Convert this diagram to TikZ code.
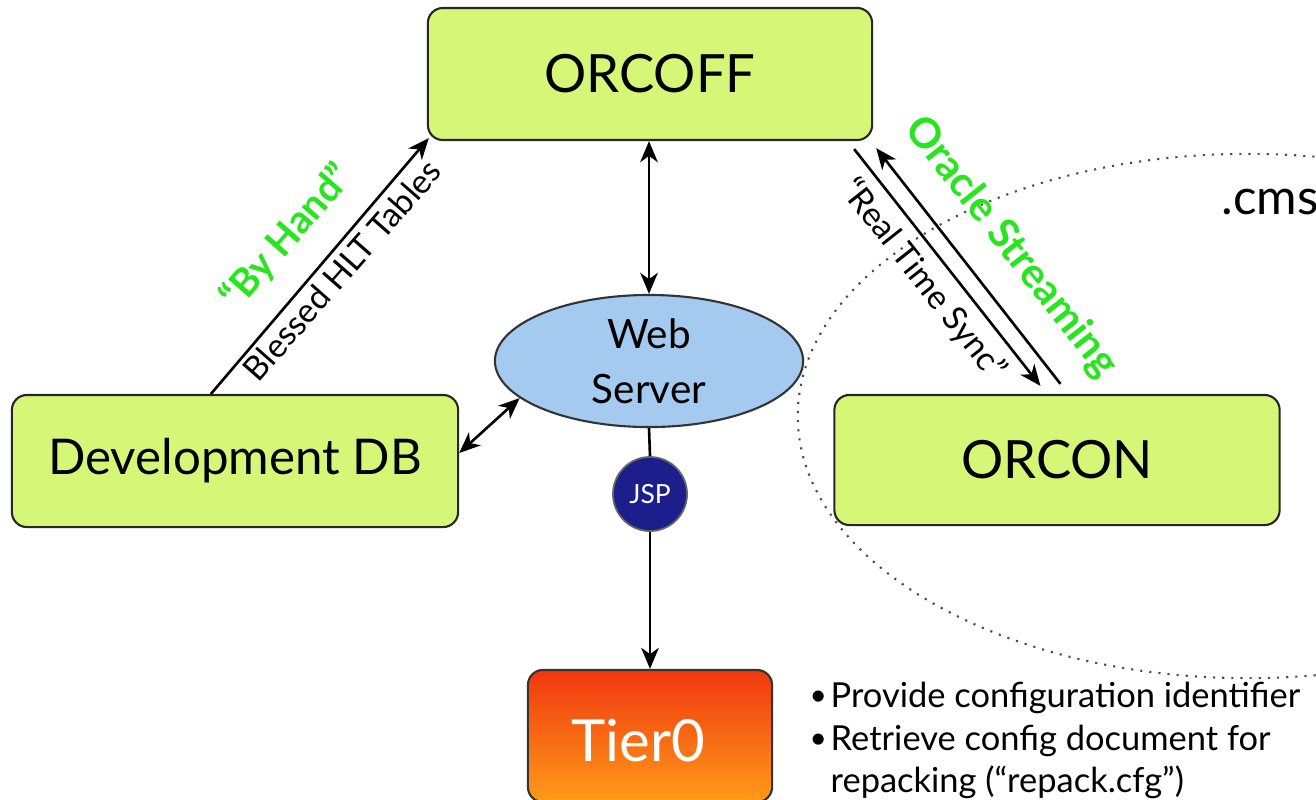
\documentclass[tikz,border=0pt]{standalone}
\usepackage{fontspec}
\setmainfont{Lato}
\usetikzlibrary{arrows.meta,shapes.geometric,shadings}
\definecolor{boxgreen}{RGB}{214,246,120}
\definecolor{srvblue}{RGB}{165,202,240}
\definecolor{jspnavy}{RGB}{28,30,140}
\definecolor{labgreen}{RGB}{40,230,30}
\definecolor{tiertop}{RGB}{240,55,15}
\definecolor{tierbot}{RGB}{255,155,25}
\begin{document}
\begin{tikzpicture}[x=0.01cm,y=-0.01cm,
  >={Stealth[length=6pt,width=5pt,inset=1.8pt]},
  box/.style={draw=black!85, line width=0.6pt, rounded corners=0.15cm, fill=boxgreen,
    minimum height=1.32cm, inner sep=0pt},
  conn/.style={line width=0.75pt, draw=black},
  lab/.style={font=\fontsize{9.5}{11}\selectfont, inner sep=0pt},
  glab/.style={font=\fontsize{11}{13}\selectfont\bfseries, text=labgreen, inner sep=0pt},
  bigtxt/.style={font=\fontsize{15}{18}\selectfont},
  bul/.style={font=\fontsize{9.8}{12}\selectfont, anchor=base west, inner sep=0pt}]
\clip (0,0) rectangle (1316,799);
\fill[white] (0,0) rectangle (1316,799);

% dotted domain ellipse
\draw[dotted, line width=0.6pt, black!70] (1248,416) ellipse [x radius=4.5cm, y radius=2.62cm];

% nodes
\node[box, bigtxt, minimum width=4.44cm] (orcoff) at (650,74) {ORCOFF};
\node[box, font=\fontsize{14}{17}\selectfont, minimum width=4.46cm] (dev) at (235,461) {Development DB};
\node[box, bigtxt, minimum width=4.45cm, minimum height=1.30cm] (orcon) at (1057,460) {ORCON};
\node[ellipse, draw=black!80, line width=0.6pt, fill=srvblue, minimum width=3.08cm, minimum height=1.32cm,
  inner sep=0pt, align=center, font=\fontsize{11.5}{15.5}\selectfont] (web) at (649,361) {Web\\Server};
\node[circle, fill=jspnavy, draw=black!60, line width=0.5pt, minimum size=0.74cm, inner sep=0pt,
  text=white, font=\fontsize{7.5}{9}\selectfont] (jsp) at (650,494) {JSP};
\node[draw=black!80, line width=0.6pt, rounded corners=0.15cm, top color=tiertop, bottom color=tierbot,
  minimum width=2.44cm, minimum height=1.32cm, inner sep=0pt] (tier) at (650,736) {};
\node[text=white, inner sep=0pt, font=\fontsize{16.5}{19}\selectfont] (tiertxt) at (638,741) {Tier0};

% connectors
\draw[conn, <->] (orcoff.south -| web.north) -- (web.north);
\draw[conn, <->] ([yshift=0.08cm]dev.east) -- (web.196);
\draw[conn] (web.south) -- (jsp.north);
\draw[conn, ->] (jsp.south) -- (tier.north);
\draw[conn, ->] ([xshift=2.0cm]dev.north west) -- ([shift={(0.02cm,0.03cm)}]orcoff.south west);
\draw[conn, ->] ([shift={(-0.19cm,-0.08cm)}]orcoff.south east) -- ([shift={(2.07cm,0.08cm)}]orcon.north west);
\draw[conn, ->] ([shift={(2.27cm,0.1cm)}]orcon.north west) -- ([shift={(0.03cm,-0.07cm)}]orcoff.south east);

% labels
\node[lab, rotate=48.7] (blessed) at (342,270) {Blessed HLT Tables};
\node[glab, rotate=48.7] (byhand) at (287,237) {“By Hand”};
\node[lab, rotate=-51.8] (rts) at (923,280) {“Real Time Sync”};
\node[glab, font=\fontsize{11.8}{13}\selectfont\bfseries, rotate=-51.8] (oracle) at (1011,247) {Oracle Streaming};

\node[anchor=base west, inner sep=0pt, font=\fontsize{14}{16}\selectfont] (cms) at (1221,214) {.cms};

% bullets
\node[bul, font=\fontsize{8.5}{10}\selectfont] (b1) at (809,705) {•};
\node[bul] (t1) at (830,707) {Provide configuration identifier};
\node[bul, font=\fontsize{8.5}{10}\selectfont] (b2) at (809,748) {•};
\node[bul] (t2) at (830,750) {Retrieve config document for};
\node[bul] (t3) at (830,792) {repacking (“repack.cfg”)};
\end{tikzpicture}
\end{document}
